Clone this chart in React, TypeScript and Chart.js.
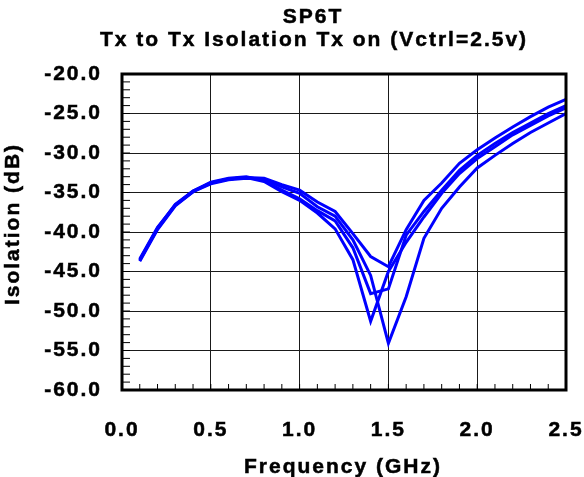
import React, { useEffect, useRef } from "react";
import { Chart, registerables } from "chart.js";

Chart.register(...registerables);

const FONT = "'Liberation Sans', Arial, sans-serif";

const titleLines = ["SP6T", "Tx to Tx Isolation Tx on (Vctrl=2.5v)"];
const xTitle = "Frequency (GHz)";
const yTitle = "Isolation (dB)";

const freq = [0.1, 0.2, 0.3, 0.4, 0.5, 0.6, 0.7, 0.8, 0.9, 1.0, 1.1, 1.2, 1.3, 1.4, 1.5, 1.6, 1.7, 1.8, 1.9, 2.0, 2.1, 2.2, 2.3, 2.4, 2.5];

const seriesA = [-43.5, -39.6, -36.6, -34.9, -33.8, -33.3, -33.1, -33.2, -34.0, -34.7, -36.2, -37.4, -40.2, -43.1, -44.4, -39.7, -36.0, -33.8, -31.3, -29.6, -28.1, -26.7, -25.4, -24.2, -23.2];
const seriesB = [-43.6, -39.5, -36.5, -34.8, -33.7, -33.2, -33.0, -33.5, -34.7, -35.8, -37.3, -38.6, -42.0, -47.8, -47.2, -40.4, -37.4, -34.7, -32.2, -30.3, -28.8, -27.4, -26.2, -25.0, -24.0];
const seriesC = [-43.4, -39.4, -36.6, -34.8, -33.8, -33.3, -33.1, -33.6, -34.9, -36.0, -37.6, -39.6, -43.5, -51.3, -45.0, -41.3, -38.1, -35.1, -32.6, -30.7, -29.2, -27.7, -26.5, -25.3, -24.3];
const seriesD = [-43.7, -39.7, -36.7, -34.9, -33.9, -33.4, -33.2, -33.3, -34.3, -35.1, -36.8, -38.0, -41.0, -45.5, -54.1, -48.2, -40.8, -37.0, -34.3, -31.9, -30.3, -28.8, -27.4, -26.2, -25.0];

const allSeries = [seriesA, seriesB, seriesC, seriesD];

const xMin = 0, xMax = 2.5, xStep = 0.5, xMinor = 0.1;
const yMin = -60, yMax = -20, yStep = 5, yMinor = 1;

const LS = "2px";

const decorPlugin = {
  id: "decor",
  beforeLayout(chart: any) {
    (chart.ctx as any).letterSpacing = LS;
  },
  beforeDraw(chart: any) {
    const ctx = chart.ctx;
    (ctx as any).letterSpacing = LS;
    ctx.save();
    ctx.fillStyle = "#fff";
    ctx.fillRect(0, 0, chart.width, chart.height);
    ctx.restore();
  },
  afterDraw(chart: any) {
    const ctx = chart.ctx;
    const { left, right, top, bottom } = chart.chartArea;
    const xs = chart.scales.x;
    const ys = chart.scales.y;
    ctx.save();
    // minor ticks
    ctx.strokeStyle = "#000";
    ctx.lineWidth = 1;
    ctx.beginPath();
    for (let v = yMin; v <= yMax + 1e-9; v += yMinor) {
      const py = ys.getPixelForValue(v);
      ctx.moveTo(left, py);
      ctx.lineTo(left + 8, py);
    }
    for (let i = 0; i <= Math.round((xMax - xMin) / xMinor); i++) {
      const px = xs.getPixelForValue(xMin + i * xMinor);
      ctx.moveTo(px, bottom);
      ctx.lineTo(px, bottom - 6);
    }
    ctx.stroke();
    // frame
    ctx.lineWidth = 3;
    ctx.strokeRect(left, top, right - left, bottom - top);

    // texts
    (ctx as any).letterSpacing = LS;
    ctx.fillStyle = "#000";
    ctx.strokeStyle = "#000";
    ctx.lineWidth = 0.5;
    ctx.font = `bold 21px ${FONT}`;
    ctx.textAlign = "center";
    ctx.textBaseline = "alphabetic";
    const put = (t: string, x: number, y: number) => {
      ctx.fillText(t, x, y);
      ctx.strokeText(t, x, y);
    };
    put(titleLines[0], 313, 23);
    put(titleLines[1], 314, 45.5);
    put(xTitle, 343, 473);
    ctx.translate(13, 224);
    ctx.rotate(-Math.PI / 2);
    ctx.textBaseline = "middle";
    put(yTitle, 0, 0);
    ctx.restore();
  },
};

export default function App() {
  const ref = useRef<HTMLCanvasElement | null>(null);
  useEffect(() => {
    if (!ref.current) return;
    const tickFont = { family: FONT, size: 21, weight: "bold" as const };
    const chart = new Chart(ref.current, {
      type: "line",
      data: {
        datasets: allSeries.map((s, i) => ({
          label: "S" + (i + 1),
          data: freq.map((f, j) => ({ x: f, y: s[j] })),
          borderColor: "#0000FF",
          backgroundColor: "#0000FF",
          borderWidth: 3,
          pointRadius: 0,
          tension: 0,
          fill: false,
        })),
      },
      options: {
        animation: false,
        responsive: false,
        devicePixelRatio: 1,
        layout: { padding: { top: 74, right: 18, left: 0, bottom: 0 } },
        plugins: {
          legend: { display: false },
          title: { display: false },
          tooltip: { enabled: false },
        },
        scales: {
          x: {
            type: "linear",
            min: xMin,
            max: xMax,
            ticks: {
              stepSize: xStep,
              callback: (v: any) => Number(v).toFixed(1),
              font: tickFont,
              color: "#000",
              textStrokeColor: "#000",
              textStrokeWidth: 0.5,
              padding: 28,
              maxRotation: 0,
              autoSkip: false,
            },
            grid: { color: "#1a1a1a", lineWidth: 1, drawTicks: false },
            border: { display: false },
            afterFit: (s: any) => {
              s.height = 87;
              s.paddingLeft = 0;
              s.paddingRight = 0;
            },
          },
          y: {
            type: "linear",
            min: yMin,
            max: yMax,
            ticks: {
              stepSize: yStep,
              callback: (v: any) => Number(v).toFixed(1),
              font: tickFont,
              color: "#000",
              textStrokeColor: "#000",
              textStrokeWidth: 0.5,
              padding: 20,
              autoSkip: false,
            },
            grid: { color: "#1a1a1a", lineWidth: 1, drawTicks: false },
            border: { display: false },
            afterFit: (s: any) => {
              s.width = 122;
              s.paddingTop = 0;
              s.paddingBottom = 0;
            },
          },
        },
      },
      plugins: [decorPlugin],
    });
    return () => chart.destroy();
  }, []);
  return (
    <div style={{ position: "absolute", left: 0, top: 0, width: 584, height: 477, background: "#fff" }}>
      <canvas ref={ref} width={584} height={477} style={{ display: "block" }} />
    </div>
  );
}
